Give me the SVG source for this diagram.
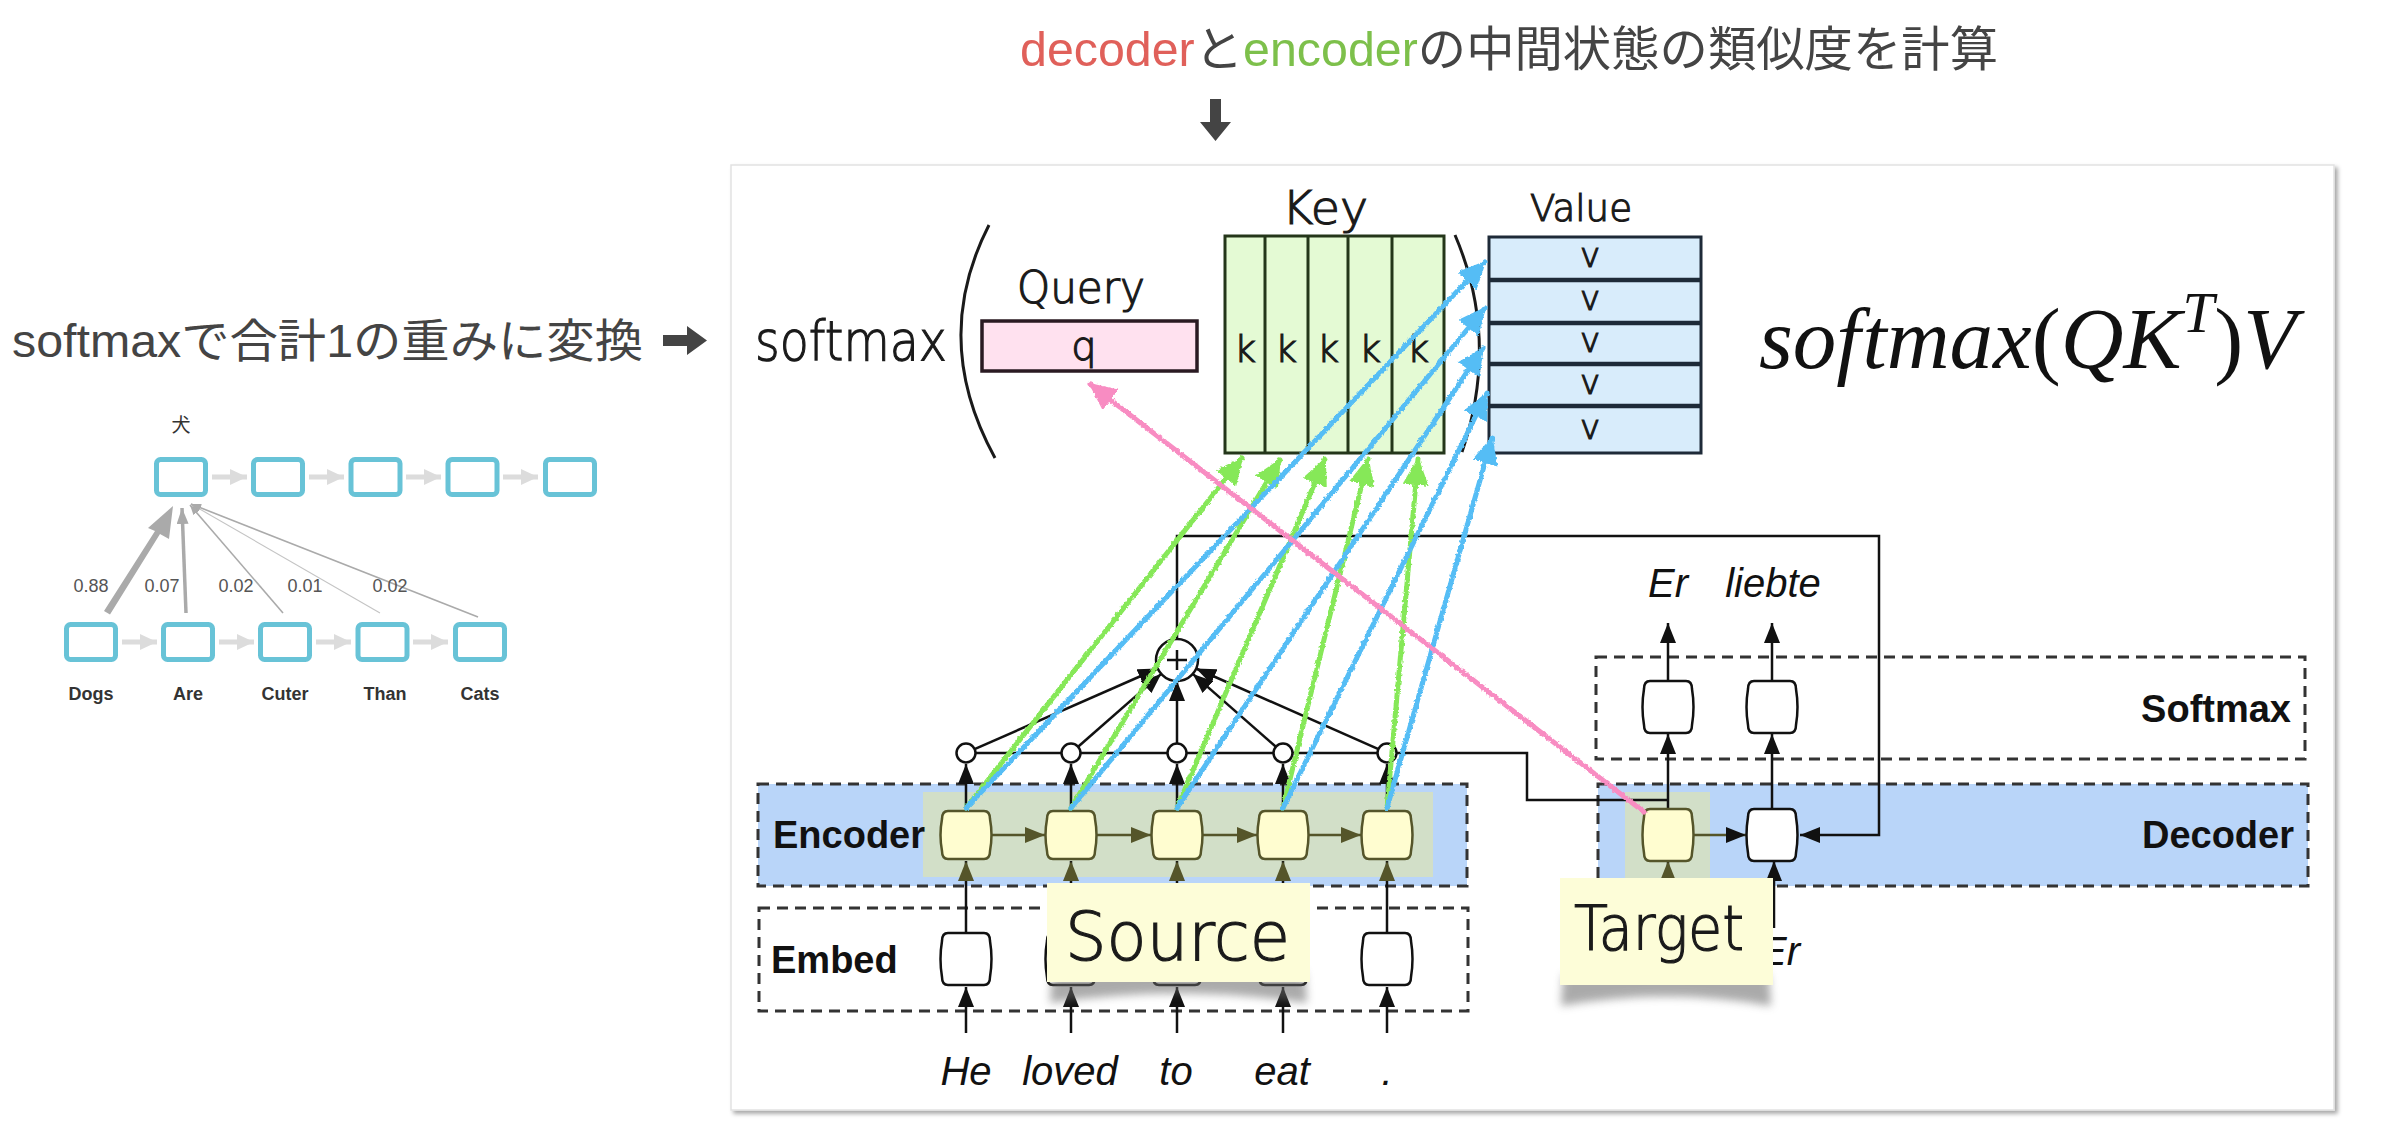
<svg xmlns="http://www.w3.org/2000/svg" width="2382" height="1146" viewBox="0 0 2382 1146">
<defs>
<style>
.jp{font-family:"Liberation Sans","Noto Sans CJK JP",sans-serif;fill:#444}
.lbl{font-family:"Liberation Sans",Arial,sans-serif;font-weight:bold;font-size:38px;fill:#111}
.it{font-family:"Liberation Sans",Arial,sans-serif;font-style:italic;font-size:40px;fill:#111;text-anchor:middle}
.hw{font-family:"DejaVu Sans",sans-serif;font-weight:200;fill:#1a1a1a;stroke:#1a1a1a;stroke-width:1.2}
.sm{font-family:"Liberation Sans",Arial,sans-serif;font-size:18px;text-anchor:middle}
.box{fill:#fff;stroke:#68C3D7;stroke-width:5}
.dash{fill:none;stroke:#333;stroke-width:3;stroke-dasharray:11 7}
.ln{fill:none;stroke:#111;stroke-width:2.5}
.ol{fill:none;stroke:#55552a;stroke-width:2.5}
.gy{fill:none;stroke:#DCDCDC;stroke-width:5}
.enc{fill:#FFFDD0;stroke:#55552a;stroke-width:2.5}
.wc{fill:#fff;stroke:#111;stroke-width:2.5}
.sc{fill:#fff;stroke:#111;stroke-width:2.5}
.g{fill:none;stroke:#86E858;stroke-width:5;stroke-linecap:round}
.b{fill:none;stroke:#55BDF5;stroke-width:5;stroke-linecap:round}
.p{fill:none;stroke:#F88CC2;stroke-width:5;stroke-linecap:round}
</style>
<marker id="ah" markerUnits="userSpaceOnUse" markerWidth="20" markerHeight="16" refX="20" refY="8" orient="auto"><path d="M0,0 L20,8 L0,16 Z" fill="#111"/></marker>
<marker id="aho" markerUnits="userSpaceOnUse" markerWidth="20" markerHeight="16" refX="20" refY="8" orient="auto"><path d="M0,0 L20,8 L0,16 Z" fill="#55552a"/></marker>
<marker id="ag" markerUnits="userSpaceOnUse" markerWidth="17" markerHeight="16" refX="17" refY="8" orient="auto"><path d="M0,0 L17,8 L0,16 Z" fill="#DCDCDC"/></marker>
<marker id="at" markerUnits="userSpaceOnUse" markerWidth="10" markerHeight="8" refX="10" refY="4" orient="auto"><path d="M0,0 L10,4 L0,8 Z" fill="#AAAAAA"/></marker>
<marker id="at2" markerUnits="userSpaceOnUse" markerWidth="16" markerHeight="12" refX="16" refY="6" orient="auto"><path d="M0,0 L16,6 L0,12 Z" fill="#AAAAAA"/></marker>
<marker id="mg" markerUnits="userSpaceOnUse" markerWidth="28" markerHeight="26" refX="26" refY="13" orient="auto"><path d="M0,0 L28,13 L0,26 Z" fill="#86E858"/></marker>
<marker id="mb" markerUnits="userSpaceOnUse" markerWidth="28" markerHeight="26" refX="26" refY="13" orient="auto"><path d="M0,0 L28,13 L0,26 Z" fill="#55BDF5"/></marker>
<marker id="mp" markerUnits="userSpaceOnUse" markerWidth="28" markerHeight="26" refX="26" refY="13" orient="auto"><path d="M0,0 L28,13 L0,26 Z" fill="#F88CC2"/></marker>
<filter id="sh" x="-2%" y="-2%" width="104%" height="104%"><feDropShadow dx="3" dy="3" stdDeviation="2" flood-color="#000" flood-opacity="0.35"/></filter>
<filter id="blur" x="-10%" y="-50%" width="120%" height="200%"><feGaussianBlur stdDeviation="4"/></filter>
<filter id="rough" filterUnits="userSpaceOnUse" x="0" y="0" width="2382" height="1146"><feTurbulence type="fractalNoise" baseFrequency="0.35" numOctaves="2" seed="4"/><feDisplacementMap in="SourceGraphic" scale="3.5" xChannelSelector="R" yChannelSelector="G"/></filter>
<path id="cell" d="M-18,-24 H18 Q24,-24 24,-16 Q27,0 24,16 Q24,24 18,24 H-18 Q-24,24 -24,16 Q-27,0 -24,-16 Q-24,-24 -18,-24 Z"/>
<path id="cellt" d="M-18,-26 H18 Q24,-26 24,-18 Q27,0 24,18 Q24,26 18,26 H-18 Q-24,26 -24,18 Q-27,0 -24,-18 Q-24,-26 -18,-26 Z"/>
</defs>

<rect width="2382" height="1146" fill="#fff"/>

<!-- titles -->
<g id="title">
<text class="jp" x="1020" y="66" font-size="48" textLength="978" lengthAdjust="spacingAndGlyphs"><tspan fill="#E0605A">decoder</tspan>と<tspan fill="#7DC04B">encoder</tspan>の中間状態の類似度を計算</text>
<polygon points="1210,99 1221,99 1221,122 1231,122 1215.5,141 1200,122 1210,122" fill="#444"/>
</g>
<g id="left-caption">
<text class="jp" x="12" y="357" font-size="46" textLength="631" lengthAdjust="spacingAndGlyphs">softmaxで合計1の重みに変換</text>
<polygon points="663,335 687,335 687,326 707,340.5 687,355 687,346 663,346" fill="#444"/>
</g>

<!-- left small attention diagram -->
<g id="attn-example">
<text x="181" y="432" font-family="'Noto Sans CJK JP',sans-serif" font-size="19" text-anchor="middle" fill="#333">犬</text>
<g id="top-row">
<rect class="box" x="156.5" y="459.5" width="49" height="35" rx="4"/>
<rect class="box" x="253.5" y="459.5" width="49" height="35" rx="4"/>
<rect class="box" x="351" y="459.5" width="49" height="35" rx="4"/>
<rect class="box" x="448" y="459.5" width="49" height="35" rx="4"/>
<rect class="box" x="545.5" y="459.5" width="49" height="35" rx="4"/>
</g>
<g id="bottom-row">
<rect class="box" x="66.5" y="624.5" width="49" height="35" rx="4"/>
<rect class="box" x="163.5" y="624.5" width="49" height="35" rx="4"/>
<rect class="box" x="260.5" y="624.5" width="49" height="35" rx="4"/>
<rect class="box" x="358" y="624.5" width="49" height="35" rx="4"/>
<rect class="box" x="455.5" y="624.5" width="49" height="35" rx="4"/>
</g>
<g id="attn-connectors">
<path class="gy" d="M212,477 H247" marker-end="url(#ag)"/>
<path class="gy" d="M309,477 H344" marker-end="url(#ag)"/>
<path class="gy" d="M406,477 H441" marker-end="url(#ag)"/>
<path class="gy" d="M503,477 H538" marker-end="url(#ag)"/>
<path class="gy" d="M122,642 H157" marker-end="url(#ag)"/>
<path class="gy" d="M219,642 H254" marker-end="url(#ag)"/>
<path class="gy" d="M316,642 H351" marker-end="url(#ag)"/>
<path class="gy" d="M413,642 H448" marker-end="url(#ag)"/>
<polygon points="104,611 110,614.5 160,534 169,539 173,506 148,528 155,531" fill="#AAAAAA"/>
<path d="M186,613 L182,508" stroke="#AAAAAA" stroke-width="3.5" fill="none" marker-end="url(#at2)"/>
<path d="M283,613 L190,505" stroke="#AAAAAA" stroke-width="1.6" fill="none" marker-end="url(#at)"/>
<path d="M380,613 L191,504" stroke="#C4C4C4" stroke-width="1.1" fill="none" marker-end="url(#at)"/>
<path d="M478,617 L191,504" stroke="#AAAAAA" stroke-width="1.6" fill="none" marker-end="url(#at)"/>
</g>
<g>
<text class="sm" x="91" y="592" fill="#555" font-size="19">0.88</text>
<text class="sm" x="162" y="592" fill="#555" font-size="19">0.07</text>
<text class="sm" x="236" y="592" fill="#555" font-size="19">0.02</text>
<text class="sm" x="305" y="592" fill="#555" font-size="19">0.01</text>
<text class="sm" x="390" y="592" fill="#555" font-size="19">0.02</text>
</g>
<g>
<text class="sm" x="91" y="700" fill="#333" font-weight="bold">Dogs</text>
<text class="sm" x="188" y="700" fill="#333" font-weight="bold">Are</text>
<text class="sm" x="285" y="700" fill="#333" font-weight="bold">Cuter</text>
<text class="sm" x="385" y="700" fill="#333" font-weight="bold">Than</text>
<text class="sm" x="480" y="700" fill="#333" font-weight="bold">Cats</text>
</g>
</g>

<!-- panel -->
<rect id="panel" x="731" y="165" width="1603" height="945" fill="#fff" stroke="#e2e2e2" stroke-width="1.5" filter="url(#sh)"/>

<!-- attention formula sketch -->
<g id="sketch">
<text class="hw" x="755" y="360" font-size="56" textLength="192" lengthAdjust="spacingAndGlyphs">softmax</text>
<path d="M989,225 Q930,340 995,458" fill="none" stroke="#1a1a1a" stroke-width="3"/>
<g id="query">
<text class="hw" x="1017" y="303" font-size="44" textLength="128" lengthAdjust="spacingAndGlyphs">Query</text>
<rect x="982" y="321" width="215" height="50" fill="#FFE1EF" stroke="#2a1a22" stroke-width="3.5"/>
<text class="hw" x="1084" y="360" font-size="40" text-anchor="middle" fill="#3a2a30" stroke="#3a2a30">q</text>
</g>
<g id="key">
<text class="hw" x="1282" y="224" font-size="46" textLength="86" lengthAdjust="spacingAndGlyphs">Key</text>
<rect x="1225" y="236" width="219" height="217" fill="#E4FAD4" stroke="#24361a" stroke-width="3"/>
<path d="M1265,236 V453 M1308,236 V453 M1348,236 V453 M1392,236 V453" stroke="#24361a" stroke-width="3"/>
<g class="hw" font-size="38" text-anchor="middle" fill="#2d3a1f" stroke="#2d3a1f">
<text x="1245" y="362">k</text><text x="1286" y="362">k</text><text x="1328" y="362">k</text><text x="1370" y="362">k</text><text x="1418" y="362">k</text>
</g>
</g>
<path d="M1455,235 Q1500,340 1462,452" fill="none" stroke="#1a1a1a" stroke-width="3"/>
<g id="value">
<text class="hw" x="1530" y="221" font-size="38" textLength="102" lengthAdjust="spacingAndGlyphs">Value</text>
<rect x="1489" y="237" width="212" height="216" fill="#D8ECFB" stroke="#1e2a38" stroke-width="3"/>
<path d="M1489,280 H1701 M1489,323 H1701 M1489,364 H1701 M1489,406 H1701" stroke="#1e2a38" stroke-width="4.5"/>
<g class="hw" font-size="34" text-anchor="middle" fill="#1e2a38" stroke="#1e2a38">
<text x="1590" y="267">v</text><text x="1590" y="310">v</text><text x="1590" y="352">v</text><text x="1590" y="394">v</text><text x="1590" y="439">v</text>
</g>
</g>
<text id="formula" x="1759" y="368" font-family="'Liberation Serif','Times New Roman',serif" font-size="87" fill="#111"><tspan font-style="italic">sof</tspan><tspan font-style="italic" dx="2">tmax</tspan><tspan>(</tspan><tspan font-style="italic">QK</tspan><tspan font-style="italic" font-size="57" dy="-36" dx="1">T</tspan><tspan dy="36">)</tspan><tspan font-style="italic">V</tspan></text>
</g>

<!-- layer boxes -->
<g id="encoder-layer">
<rect x="758" y="784" width="709" height="102" fill="#B9D5F9"/>
<rect x="923" y="792" width="510" height="85" fill="#D2DFC8"/>
<rect class="dash" x="758" y="784" width="709" height="102"/>
<text class="lbl" x="773" y="848">Encoder</text>
</g>
<g id="embed-layer">
<rect class="dash" x="759" y="908" width="709" height="103"/>
<text class="lbl" x="771" y="973">Embed</text>
</g>
<g id="softmax-layer">
<rect class="dash" x="1596" y="657" width="709" height="102"/>
<text class="lbl" x="2291" y="722" text-anchor="end">Softmax</text>
</g>
<g id="decoder-layer">
<rect x="1598" y="784" width="710" height="102" fill="#B9D5F9"/>
<rect x="1625" y="792" width="85" height="86" fill="#D2DFC8"/>
<rect class="dash" x="1598" y="784" width="710" height="102"/>
<text class="lbl" x="2294" y="848" text-anchor="end">Decoder</text>
</g>

<!-- connectors -->
<g id="connectors">
<path class="ln" d="M1177,639 V536 H1879 V835 H1800" marker-end="url(#ah)"/>
<path class="ln" d="M966,753 H1527 V800 H1668"/>
<path class="ln" d="M974,749.4 L1158,668.5" marker-end="url(#ah)"/>
<path class="ln" d="M1077.8,747 L1161.2,673.9" marker-end="url(#ah)"/>
<path class="ln" d="M1177,744 V681" marker-end="url(#ah)"/>
<path class="ln" d="M1276.2,747 L1192.8,673.9" marker-end="url(#ah)"/>
<path class="ln" d="M1379,749.4 L1196,668.5" marker-end="url(#ah)"/>
<path class="ln" d="M966,811 V764" marker-end="url(#ah)"/>
<path class="ln" d="M1071,811 V764" marker-end="url(#ah)"/>
<path class="ln" d="M1177,811 V764" marker-end="url(#ah)"/>
<path class="ln" d="M1283,811 V764" marker-end="url(#ah)"/>
<path class="ln" d="M1387,811 V764" marker-end="url(#ah)"/>
<path class="ol" d="M991,835 H1045" marker-end="url(#aho)"/>
<path class="ol" d="M1096,835 H1151" marker-end="url(#aho)"/>
<path class="ol" d="M1202,835 H1257" marker-end="url(#aho)"/>
<path class="ol" d="M1308,835 H1361" marker-end="url(#aho)"/>
<path class="ln" d="M966,933 V861" marker-end="url(#aho)"/>
<path class="ln" d="M1071,933 V861" marker-end="url(#aho)"/>
<path class="ln" d="M1177,933 V861" marker-end="url(#aho)"/>
<path class="ln" d="M1283,933 V861" marker-end="url(#aho)"/>
<path class="ln" d="M1387,933 V861" marker-end="url(#aho)"/>
<path class="ln" d="M966,1033 V987" marker-end="url(#ah)"/>
<path class="ln" d="M1071,1033 V987" marker-end="url(#ah)"/>
<path class="ln" d="M1177,1033 V987" marker-end="url(#ah)"/>
<path class="ln" d="M1283,1033 V987" marker-end="url(#ah)"/>
<path class="ln" d="M1387,1033 V987" marker-end="url(#ah)"/>
<path class="ol" d="M1693,835 H1746" marker-end="url(#ah)"/>
<path class="ln" d="M1668,810 V734" marker-end="url(#ah)"/>
<path class="ln" d="M1772,810 V734" marker-end="url(#ah)"/>
<path class="ln" d="M1668,681 V623" marker-end="url(#ah)"/>
<path class="ln" d="M1772,681 V623" marker-end="url(#ah)"/>
<path class="ln" d="M1668,900 V861" marker-end="url(#aho)"/>
<path class="ln" d="M1774,928 V861" marker-end="url(#ah)"/>
</g>

<!-- nodes -->
<g id="combine">
<circle cx="1177" cy="660" r="21" fill="#fff" stroke="#111" stroke-width="2.5"/>
<path d="M1167,660 H1187 M1177,650 V670" stroke="#111" stroke-width="2.5"/>
</g>
<g id="weights" fill="#fff" stroke="#111" stroke-width="2.5">
<circle cx="966" cy="753" r="9.5"/><circle cx="1071" cy="753" r="9.5"/><circle cx="1177" cy="753" r="9.5"/><circle cx="1283" cy="753" r="9.5"/><circle cx="1387" cy="753" r="9.5"/>
</g>
<g id="encoder-cells" class="enc">
<use href="#cell" x="966" y="835"/><use href="#cell" x="1071" y="835"/><use href="#cell" x="1177" y="835"/><use href="#cell" x="1283" y="835"/><use href="#cell" x="1387" y="835"/>
</g>
<g id="embed-cells" class="wc">
<use href="#cellt" x="966" y="959"/><use href="#cellt" x="1071" y="959"/><use href="#cellt" x="1177" y="959"/><use href="#cellt" x="1283" y="959"/><use href="#cellt" x="1387" y="959"/>
</g>
<g id="decoder-cells">
<use href="#cellt" x="1668" y="835" class="enc"/>
<use href="#cellt" x="1772" y="835" class="wc"/>
</g>
<g id="softmax-cells" class="sc">
<use href="#cellt" x="1668" y="707"/><use href="#cellt" x="1772" y="707"/>
</g>

<!-- words -->
<g id="words">
<text class="it" x="966" y="1085">He</text>
<text class="it" x="1070" y="1085">loved</text>
<text class="it" x="1176" y="1085">to</text>
<text class="it" x="1282" y="1085">eat</text>
<text class="it" x="1387" y="1085">.</text>
<text class="it" x="1668" y="597">Er</text>
<text class="it" x="1773" y="597">liebte</text>
<text class="it" x="1780" y="965">Er</text>
</g>

<!-- sticky notes -->
<g id="source-note">
<path d="M1052,972 L1050,1003 Q1178,984 1307,1003 L1305,972 Z" fill="#666" opacity="0.55" filter="url(#blur)"/>
<rect x="1047" y="883" width="263" height="99" fill="#FDFDD8"/>
<text class="hw" x="1065" y="960" font-size="68" fill="#45451c" stroke="#45451c" stroke-width="1.8" textLength="225" lengthAdjust="spacingAndGlyphs">Source</text>
</g>
<g id="target-note">
<path d="M1563,975 L1561,1006 Q1666,987 1771,1006 L1769,975 Z" fill="#666" opacity="0.55" filter="url(#blur)"/>
<rect x="1560" y="878" width="213" height="107" fill="#FDFDD8"/>
<text class="hw" x="1574" y="950" font-size="62" fill="#45451c" stroke="#45451c" stroke-width="1.8" textLength="170" lengthAdjust="spacingAndGlyphs">Target</text>
</g>

<!-- hand-drawn attention arrows -->
<g id="hand-arrows" filter="url(#rough)">
<path class="g" d="M966,808 L1242,458" marker-end="url(#mg)"/>
<path class="g" d="M1071,808 L1280,460" marker-end="url(#mg)"/>
<path class="g" d="M1177,808 L1325,459" marker-end="url(#mg)"/>
<path class="g" d="M1283,808 L1368,459" marker-end="url(#mg)"/>
<path class="g" d="M1387,808 L1418,459" marker-end="url(#mg)"/>
<path class="b" d="M966,808 L1485,262" marker-end="url(#mb)"/>
<path class="b" d="M1071,808 L1485,308" marker-end="url(#mb)"/>
<path class="b" d="M1177,808 L1483,348" marker-end="url(#mb)"/>
<path class="b" d="M1283,808 L1487,393" marker-end="url(#mb)"/>
<path class="b" d="M1387,808 L1492,438" marker-end="url(#mb)"/>
<path class="p" d="M1644,812 L1090,384" marker-end="url(#mp)"/>
</g>
</svg>
